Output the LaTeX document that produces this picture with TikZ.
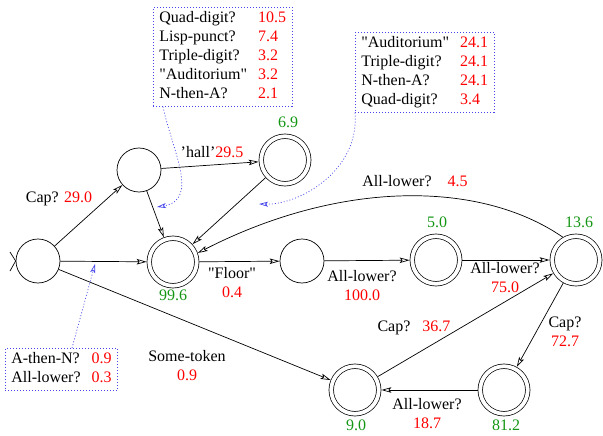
\documentclass[tikz,border=0pt]{standalone}
\usepackage{fontspec}
\setmainfont{Liberation Serif}[Ligatures=TeX]
\usetikzlibrary{arrows.meta}
\definecolor{wgreen}{RGB}{20,150,20}
\definecolor{noteblue}{RGB}{70,70,235}
\newcommand{\dq}{\textquotedbl}
\begin{document}
\begin{tikzpicture}[x=1pt,y=-1pt,line width=0.7pt,
    font=\rmfamily\fontsize{16}{19}\selectfont,
    >={Stealth[open,length=10pt,width=5.5pt,inset=2pt]},
    state/.style={draw,circle,minimum size=44pt,inner sep=0pt},
    accept/.style={draw,circle,double,double distance=3.8pt,minimum size=47.5pt,
      inner sep=0pt,outer sep=2.6pt},
    weight/.style={text=wgreen},
    notebox/.style={draw=noteblue,dash pattern=on 1pt off 2pt,inner xsep=6pt,
      inner ysep=2pt,anchor=north west},
    note/.style={draw=noteblue,dash pattern=on 1pt off 2pt,
      -{Stealth[open,length=9pt,width=5pt,inset=2pt,color=noteblue]}}]
  \useasboundingbox (0,0) rectangle (603,436);
  \node[state] (s0) at (38,261) {};
  \node[state] (s1) at (139,170) {};
  \node[accept] (s2) at (173,262) {};
  \node[accept] (s3) at (285,160) {};
  \node[state] (s4) at (302,261) {};
  \node[accept] (s5) at (436,260) {};
  \node[accept] (s6) at (576,260) {};
  \node[accept] (s7) at (504,390) {};
  \node[accept] (s8) at (355,390) {};
  % start marker
  \coordinate (in1) at (10,252);
  \coordinate (in2) at (10,271);
  \draw (in1) -- (s0.west) -- (in2);
  % weights
  \node[weight] (w2) at (173,295) {99.6};
  \node[weight] (w3) at (288,122) {6.9};
  \node[weight] (w5) at (437,222) {5.0};
  \node[weight] (w6) at (579,222) {13.6};
  \node[weight] (w7) at (506,425) {81.2};
  \node[weight] (w8) at (356,425) {9.0};
  % edge labels
  \node (l01) at (59,199) {Cap? \textcolor{red}{29.0}};
  \node (l13) at (212,152) {'hall'\textcolor{red}{29.5}};
  \node[align=center] (l24) at (232,283) {\dq Floor\dq\\ \textcolor{red}{0.4}};
  \node[align=center] (l45) at (362,286) {All-lower?\\ \textcolor{red}{100.0}};
  \node[align=center] (l56) at (505,278) {All-lower?\\ \textcolor{red}{75.0}};
  \node (l62) at (415,181) {All-lower?\quad\textcolor{red}{4.5}};
  \node[align=center] (l67) at (565,332) {Cap?\\ \textcolor{red}{72.7}};
  \node (l86) at (414,328) {Cap?\hspace{12pt}\textcolor{red}{36.7}};
  \node[align=center] (l78) at (427,414) {All-lower?\\ \textcolor{red}{18.7}};
  \node[align=center] (l08) at (187,366) {Some-token\\ \textcolor{red}{0.9}};
  % feature boxes
  \node[notebox] (n1) at (153,7) {\begin{tabular}{@{}l@{\hspace{11pt}}l@{}}
    Quad-digit? & \textcolor{red}{10.5}\\
    Lisp-punct? & \textcolor{red}{7.4}\\
    Triple-digit? & \textcolor{red}{3.2}\\
    \dq Auditorium\dq & \textcolor{red}{3.2}\\
    N-then-A? & \textcolor{red}{2.1}
  \end{tabular}};
  \node[notebox] (n2) at (355,32) {\begin{tabular}{@{}l@{\hspace{11pt}}l@{}}
    \dq Auditorium\dq & \textcolor{red}{24.1}\\
    Triple-digit? & \textcolor{red}{24.1}\\
    N-then-A? & \textcolor{red}{24.1}\\
    Quad-digit? & \textcolor{red}{3.4}
  \end{tabular}};
  \node[notebox] (n3) at (5,348) {\begin{tabular}{@{}l@{\hspace{11pt}}l@{}}
    A-then-N? & \textcolor{red}{0.9}\\
    All-lower? & \textcolor{red}{0.3}
  \end{tabular}};
  \coordinate (t1) at (157,207);
  \coordinate (t2) at (259,204);
  \coordinate (t3) at (95,264);
  \draw[note] ([xshift=10pt]n1.south west) .. controls (172,150) and (200,200) .. (t1);
  \draw[note] (n2.south west) .. controls (360,170) and (300,205) .. (t2);
  \draw[note] ([xshift=67pt]n3.north west) -- (t3);
  \begin{scope}[->]
    \draw (s0) to (s1);
    \draw (s0) to (s2);
    \draw (s0) to (s8);
    \draw (s1) to (s2);
    \draw (s1) to (s3);
    \draw (s3) to (s2);
    \draw (s2) to (s4);
    \draw (s4) to (s5);
    \draw (s5) to (s6);
    \draw (s6.120) .. controls (480,180) and (340,180) .. (s2.20);
    \draw (s6) to (s7);
    \draw (s8) to (s6);
    \draw (s7) to (s8);
  \end{scope}
\end{tikzpicture}
\end{document}
